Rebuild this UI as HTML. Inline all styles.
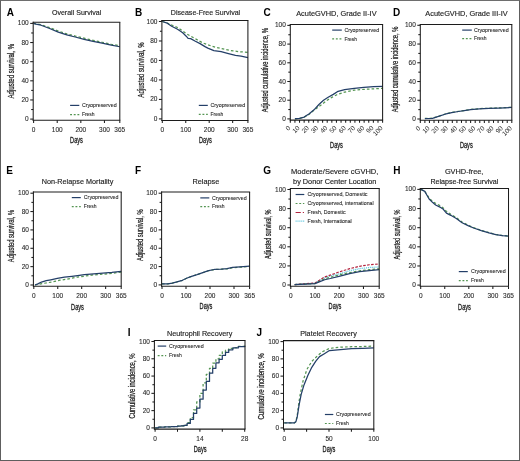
<!DOCTYPE html>
<html><head><meta charset="utf-8"><style>
html,body{margin:0;padding:0;background:#fff;}
body{width:520px;height:461px;overflow:hidden;position:relative;}
svg{position:absolute;left:0;top:0;font-family:"Liberation Sans",sans-serif;will-change:transform;}
.frame{position:absolute;left:0;top:0;width:518px;height:459px;border:1px solid #5e5e5e;border-top-color:#6e6e6e;}
</style></head><body>
<svg width="520" height="461" viewBox="0 0 520 461">
<text x="6.7" y="15.7" font-size="10" text-anchor="start" fill="#000" font-weight="bold" >A</text>
<text x="76.6" y="15.2" font-size="7.7" text-anchor="middle" fill="#222" textLength="49.4" lengthAdjust="spacingAndGlyphs" stroke="#222" stroke-width="0.15" >Overall Survival</text>
<polyline points="33.6,23.4 35.96,23.88 40.68,24.55 49.66,27.61 58.4,31.06 66.9,33.93 75.16,36.03 84.14,38.23 93.11,40.34 102.09,42.25 111.3,44.26 119.8,45.79" fill="none" stroke="#549552" stroke-width="1.25" stroke-dasharray="2.6 2.1" stroke-linejoin="round"/>
<polyline points="33.6,23.4 35.96,24.07 41.06,25.22 49.61,28.47 58.28,32.11 66.83,34.88 75.16,36.99 84.14,39.29 93.11,41.39 102.09,43.21 111.3,45.22 119.8,46.75" fill="none" stroke="#243f68" stroke-width="1.25" stroke-linejoin="round"/>
<line x1="32.7" y1="22.2" x2="120.3" y2="22.2" stroke="#1c1c1c" stroke-width="1.05" />
<line x1="119.8" y1="22.2" x2="119.8" y2="120.3" stroke="#1c1c1c" stroke-width="1.05" />
<line x1="33.2" y1="21.7" x2="33.2" y2="120.8" stroke="#1c1c1c" stroke-width="1.05" />
<line x1="32.7" y1="120.3" x2="120.3" y2="120.3" stroke="#1c1c1c" stroke-width="1.05" />
<line x1="30.2" y1="119.1" x2="33.2" y2="119.1" stroke="#1c1c1c" stroke-width="1.05" />
<text x="28.7" y="121.15" font-size="6.5" text-anchor="end" fill="#2a2a2a" stroke="#2a2a2a" stroke-width="0.1" >0</text>
<line x1="31.2" y1="109.53" x2="33.2" y2="109.53" stroke="#1c1c1c" stroke-width="1.05" />
<line x1="30.2" y1="99.96" x2="33.2" y2="99.96" stroke="#1c1c1c" stroke-width="1.05" />
<text x="28.7" y="102.01" font-size="6.5" text-anchor="end" fill="#2a2a2a" stroke="#2a2a2a" stroke-width="0.1" >20</text>
<line x1="31.2" y1="90.39" x2="33.2" y2="90.39" stroke="#1c1c1c" stroke-width="1.05" />
<line x1="30.2" y1="80.82" x2="33.2" y2="80.82" stroke="#1c1c1c" stroke-width="1.05" />
<text x="28.7" y="82.87" font-size="6.5" text-anchor="end" fill="#2a2a2a" stroke="#2a2a2a" stroke-width="0.1" >40</text>
<line x1="31.2" y1="71.25" x2="33.2" y2="71.25" stroke="#1c1c1c" stroke-width="1.05" />
<line x1="30.2" y1="61.68" x2="33.2" y2="61.68" stroke="#1c1c1c" stroke-width="1.05" />
<text x="28.7" y="63.73" font-size="6.5" text-anchor="end" fill="#2a2a2a" stroke="#2a2a2a" stroke-width="0.1" >60</text>
<line x1="31.2" y1="52.11" x2="33.2" y2="52.11" stroke="#1c1c1c" stroke-width="1.05" />
<line x1="30.2" y1="42.54" x2="33.2" y2="42.54" stroke="#1c1c1c" stroke-width="1.05" />
<text x="28.7" y="44.59" font-size="6.5" text-anchor="end" fill="#2a2a2a" stroke="#2a2a2a" stroke-width="0.1" >80</text>
<line x1="31.2" y1="32.97" x2="33.2" y2="32.97" stroke="#1c1c1c" stroke-width="1.05" />
<line x1="30.2" y1="23.4" x2="33.2" y2="23.4" stroke="#1c1c1c" stroke-width="1.05" />
<text x="28.7" y="25.45" font-size="6.5" text-anchor="end" fill="#2a2a2a" stroke="#2a2a2a" stroke-width="0.1" >100</text>
<line x1="33.6" y1="120.3" x2="33.6" y2="123" stroke="#1c1c1c" stroke-width="1.05" />
<line x1="57.22" y1="120.3" x2="57.22" y2="123" stroke="#1c1c1c" stroke-width="1.05" />
<line x1="80.83" y1="120.3" x2="80.83" y2="123" stroke="#1c1c1c" stroke-width="1.05" />
<line x1="104.45" y1="120.3" x2="104.45" y2="123" stroke="#1c1c1c" stroke-width="1.05" />
<line x1="119.8" y1="120.3" x2="119.8" y2="123" stroke="#1c1c1c" stroke-width="1.05" />
<text x="33.6" y="131.8" font-size="6.5" text-anchor="middle" fill="#2a2a2a" stroke="#2a2a2a" stroke-width="0.1" >0</text>
<text x="57.22" y="131.8" font-size="6.5" text-anchor="middle" fill="#2a2a2a" stroke="#2a2a2a" stroke-width="0.1" >100</text>
<text x="80.83" y="131.8" font-size="6.5" text-anchor="middle" fill="#2a2a2a" stroke="#2a2a2a" stroke-width="0.1" >200</text>
<text x="104.45" y="131.8" font-size="6.5" text-anchor="middle" fill="#2a2a2a" stroke="#2a2a2a" stroke-width="0.1" >300</text>
<text x="119.8" y="131.8" font-size="6.5" text-anchor="middle" fill="#2a2a2a" stroke="#2a2a2a" stroke-width="0.1" >365</text>
<text x="76.5" y="143.1" font-size="8.4" text-anchor="middle" fill="#222" textLength="12.8" lengthAdjust="spacingAndGlyphs" stroke="#222" stroke-width="0.3">Days</text>
<text x="0" y="0" font-size="8.4" text-anchor="middle" fill="#222" stroke="#222" stroke-width="0.25" textLength="54.5" lengthAdjust="spacingAndGlyphs" transform="translate(13.9 71.2) rotate(-90)">Adjusted survival, %</text>
<line x1="70.1" y1="105.4" x2="79.3" y2="105.4" stroke="#243f68" stroke-width="1.2"/>
<text x="81.9" y="107.1" font-size="5.3" text-anchor="start" fill="#2a2a2a" textLength="34.7" lengthAdjust="spacingAndGlyphs" stroke="#2a2a2a" stroke-width="0.1" >Cryopreserved</text>
<line x1="70.1" y1="114.6" x2="79.3" y2="114.6" stroke="#549552" stroke-width="1.2" stroke-dasharray="1.9 1.75"/>
<text x="81.9" y="116.3" font-size="5.3" text-anchor="start" fill="#2a2a2a" textLength="12.7" lengthAdjust="spacingAndGlyphs" stroke="#2a2a2a" stroke-width="0.1" >Fresh</text>
<text x="134.9" y="15.7" font-size="10" text-anchor="start" fill="#000" font-weight="bold" >B</text>
<text x="205.5" y="15.3" font-size="7.7" text-anchor="middle" fill="#222" textLength="69.3" lengthAdjust="spacingAndGlyphs" stroke="#222" stroke-width="0.15" >Disease-Free Survival</text>
<polyline points="162.3,21.5 166.99,22.96 173.32,25.79 177.54,27.54 182,30.56 186.22,33.58 190.68,36.21 194.9,38.45 199.12,40.98 203.58,43.22 212.25,46.34 221.16,48.58 230.08,50.43 239.22,51.69 247.9,52.38" fill="none" stroke="#549552" stroke-width="1.25" stroke-dasharray="2.6 2.1" stroke-linejoin="round"/>
<polyline points="162.3,21.5 167.22,23.16 171.68,26.18 177.54,29.29 182.7,32.7 186.22,36.21 188.1,38.45 190.68,38.64 194.9,40.98 200.06,43.61 204.98,46.63 207.8,48.09 213.89,50.62 221.16,51.69 228.43,53.54 235.47,55.3 241.1,56.17 247.9,57.73" fill="none" stroke="#243f68" stroke-width="1.25" stroke-linejoin="round"/>
<line x1="161.4" y1="20.5" x2="248.4" y2="20.5" stroke="#1c1c1c" stroke-width="1.05" />
<line x1="247.9" y1="20.5" x2="247.9" y2="120.4" stroke="#1c1c1c" stroke-width="1.05" />
<line x1="161.9" y1="20" x2="161.9" y2="120.9" stroke="#1c1c1c" stroke-width="1.05" />
<line x1="161.4" y1="120.4" x2="248.4" y2="120.4" stroke="#1c1c1c" stroke-width="1.05" />
<line x1="158.9" y1="118.9" x2="161.9" y2="118.9" stroke="#1c1c1c" stroke-width="1.05" />
<text x="157.4" y="120.95" font-size="6.5" text-anchor="end" fill="#2a2a2a" stroke="#2a2a2a" stroke-width="0.1" >0</text>
<line x1="159.9" y1="109.16" x2="161.9" y2="109.16" stroke="#1c1c1c" stroke-width="1.05" />
<line x1="158.9" y1="99.42" x2="161.9" y2="99.42" stroke="#1c1c1c" stroke-width="1.05" />
<text x="157.4" y="101.47" font-size="6.5" text-anchor="end" fill="#2a2a2a" stroke="#2a2a2a" stroke-width="0.1" >20</text>
<line x1="159.9" y1="89.68" x2="161.9" y2="89.68" stroke="#1c1c1c" stroke-width="1.05" />
<line x1="158.9" y1="79.94" x2="161.9" y2="79.94" stroke="#1c1c1c" stroke-width="1.05" />
<text x="157.4" y="81.99" font-size="6.5" text-anchor="end" fill="#2a2a2a" stroke="#2a2a2a" stroke-width="0.1" >40</text>
<line x1="159.9" y1="70.2" x2="161.9" y2="70.2" stroke="#1c1c1c" stroke-width="1.05" />
<line x1="158.9" y1="60.46" x2="161.9" y2="60.46" stroke="#1c1c1c" stroke-width="1.05" />
<text x="157.4" y="62.51" font-size="6.5" text-anchor="end" fill="#2a2a2a" stroke="#2a2a2a" stroke-width="0.1" >60</text>
<line x1="159.9" y1="50.72" x2="161.9" y2="50.72" stroke="#1c1c1c" stroke-width="1.05" />
<line x1="158.9" y1="40.98" x2="161.9" y2="40.98" stroke="#1c1c1c" stroke-width="1.05" />
<text x="157.4" y="43.03" font-size="6.5" text-anchor="end" fill="#2a2a2a" stroke="#2a2a2a" stroke-width="0.1" >80</text>
<line x1="159.9" y1="31.24" x2="161.9" y2="31.24" stroke="#1c1c1c" stroke-width="1.05" />
<line x1="158.9" y1="21.5" x2="161.9" y2="21.5" stroke="#1c1c1c" stroke-width="1.05" />
<text x="157.4" y="23.55" font-size="6.5" text-anchor="end" fill="#2a2a2a" stroke="#2a2a2a" stroke-width="0.1" >100</text>
<line x1="162.3" y1="120.4" x2="162.3" y2="123.1" stroke="#1c1c1c" stroke-width="1.05" />
<line x1="185.75" y1="120.4" x2="185.75" y2="123.1" stroke="#1c1c1c" stroke-width="1.05" />
<line x1="209.2" y1="120.4" x2="209.2" y2="123.1" stroke="#1c1c1c" stroke-width="1.05" />
<line x1="232.66" y1="120.4" x2="232.66" y2="123.1" stroke="#1c1c1c" stroke-width="1.05" />
<line x1="247.9" y1="120.4" x2="247.9" y2="123.1" stroke="#1c1c1c" stroke-width="1.05" />
<text x="162.3" y="131.9" font-size="6.5" text-anchor="middle" fill="#2a2a2a" stroke="#2a2a2a" stroke-width="0.1" >0</text>
<text x="185.75" y="131.9" font-size="6.5" text-anchor="middle" fill="#2a2a2a" stroke="#2a2a2a" stroke-width="0.1" >100</text>
<text x="209.2" y="131.9" font-size="6.5" text-anchor="middle" fill="#2a2a2a" stroke="#2a2a2a" stroke-width="0.1" >200</text>
<text x="232.66" y="131.9" font-size="6.5" text-anchor="middle" fill="#2a2a2a" stroke="#2a2a2a" stroke-width="0.1" >300</text>
<text x="247.9" y="131.9" font-size="6.5" text-anchor="middle" fill="#2a2a2a" stroke="#2a2a2a" stroke-width="0.1" >365</text>
<text x="205.4" y="143.1" font-size="8.4" text-anchor="middle" fill="#222" textLength="12.8" lengthAdjust="spacingAndGlyphs" stroke="#222" stroke-width="0.3">Days</text>
<text x="0" y="0" font-size="8.4" text-anchor="middle" fill="#222" stroke="#222" stroke-width="0.25" textLength="55.4" lengthAdjust="spacingAndGlyphs" transform="translate(143.9 70) rotate(-90)">Adjusted survival, %</text>
<line x1="198.8" y1="105.4" x2="207.8" y2="105.4" stroke="#243f68" stroke-width="1.2"/>
<text x="210.5" y="107.1" font-size="5.3" text-anchor="start" fill="#2a2a2a" textLength="34.7" lengthAdjust="spacingAndGlyphs" stroke="#2a2a2a" stroke-width="0.1" >Cryopreserved</text>
<line x1="198.8" y1="114.4" x2="207.8" y2="114.4" stroke="#549552" stroke-width="1.2" stroke-dasharray="1.9 1.75"/>
<text x="210.5" y="116.1" font-size="5.3" text-anchor="start" fill="#2a2a2a" textLength="12.7" lengthAdjust="spacingAndGlyphs" stroke="#2a2a2a" stroke-width="0.1" >Fresh</text>
<text x="263.4" y="15.7" font-size="10" text-anchor="start" fill="#000" font-weight="bold" >C</text>
<text x="336.4" y="15.6" font-size="7.7" text-anchor="middle" fill="#222" textLength="80.4" lengthAdjust="spacingAndGlyphs" stroke="#222" stroke-width="0.15" >AcuteGVHD, Grade II-IV</text>
<polyline points="294.92,118.9 299.53,118.43 304.15,117.22 309.22,114.23 314.3,110.02 317.99,107.4 321.68,104.5 327.22,100.2 331.84,97.4 336.91,94.68 344.66,92.07 354.26,90.2 363.86,89.35 373.55,88.89 382.6,88.33" fill="none" stroke="#549552" stroke-width="1.25" stroke-dasharray="2.6 2.1" stroke-linejoin="round"/>
<polyline points="294.92,118.71 299.53,118.34 304.15,117.03 309.22,113.66 314.02,109.83 318.91,104.5 323.53,100.2 328.14,97.3 333.31,94.4 338.11,91.32 344.66,89.63 354.26,88.33 363.86,87.3 373.55,86.74 382.6,86.27" fill="none" stroke="#243f68" stroke-width="1.25" stroke-linejoin="round"/>
<line x1="289.8" y1="24.4" x2="383.1" y2="24.4" stroke="#1c1c1c" stroke-width="1.05" />
<line x1="382.6" y1="24.4" x2="382.6" y2="120.1" stroke="#1c1c1c" stroke-width="1.05" />
<line x1="290.3" y1="23.9" x2="290.3" y2="120.6" stroke="#1c1c1c" stroke-width="1.05" />
<line x1="289.8" y1="120.1" x2="383.1" y2="120.1" stroke="#1c1c1c" stroke-width="1.05" />
<line x1="287.3" y1="118.9" x2="290.3" y2="118.9" stroke="#1c1c1c" stroke-width="1.05" />
<text x="285.8" y="120.95" font-size="6.5" text-anchor="end" fill="#2a2a2a" stroke="#2a2a2a" stroke-width="0.1" >0</text>
<line x1="288.3" y1="109.55" x2="290.3" y2="109.55" stroke="#1c1c1c" stroke-width="1.05" />
<line x1="287.3" y1="100.2" x2="290.3" y2="100.2" stroke="#1c1c1c" stroke-width="1.05" />
<text x="285.8" y="102.25" font-size="6.5" text-anchor="end" fill="#2a2a2a" stroke="#2a2a2a" stroke-width="0.1" >20</text>
<line x1="288.3" y1="90.85" x2="290.3" y2="90.85" stroke="#1c1c1c" stroke-width="1.05" />
<line x1="287.3" y1="81.5" x2="290.3" y2="81.5" stroke="#1c1c1c" stroke-width="1.05" />
<text x="285.8" y="83.55" font-size="6.5" text-anchor="end" fill="#2a2a2a" stroke="#2a2a2a" stroke-width="0.1" >40</text>
<line x1="288.3" y1="72.15" x2="290.3" y2="72.15" stroke="#1c1c1c" stroke-width="1.05" />
<line x1="287.3" y1="62.8" x2="290.3" y2="62.8" stroke="#1c1c1c" stroke-width="1.05" />
<text x="285.8" y="64.85" font-size="6.5" text-anchor="end" fill="#2a2a2a" stroke="#2a2a2a" stroke-width="0.1" >60</text>
<line x1="288.3" y1="53.45" x2="290.3" y2="53.45" stroke="#1c1c1c" stroke-width="1.05" />
<line x1="287.3" y1="44.1" x2="290.3" y2="44.1" stroke="#1c1c1c" stroke-width="1.05" />
<text x="285.8" y="46.15" font-size="6.5" text-anchor="end" fill="#2a2a2a" stroke="#2a2a2a" stroke-width="0.1" >80</text>
<line x1="288.3" y1="34.75" x2="290.3" y2="34.75" stroke="#1c1c1c" stroke-width="1.05" />
<line x1="287.3" y1="25.4" x2="290.3" y2="25.4" stroke="#1c1c1c" stroke-width="1.05" />
<text x="285.8" y="27.45" font-size="6.5" text-anchor="end" fill="#2a2a2a" stroke="#2a2a2a" stroke-width="0.1" >100</text>
<line x1="290.3" y1="120.1" x2="290.3" y2="122.8" stroke="#1c1c1c" stroke-width="1.05" />
<line x1="294.92" y1="120.1" x2="294.92" y2="122.8" stroke="#1c1c1c" stroke-width="1.05" />
<line x1="299.53" y1="120.1" x2="299.53" y2="122.8" stroke="#1c1c1c" stroke-width="1.05" />
<line x1="304.15" y1="120.1" x2="304.15" y2="122.8" stroke="#1c1c1c" stroke-width="1.05" />
<line x1="308.76" y1="120.1" x2="308.76" y2="122.8" stroke="#1c1c1c" stroke-width="1.05" />
<line x1="313.38" y1="120.1" x2="313.38" y2="122.8" stroke="#1c1c1c" stroke-width="1.05" />
<line x1="317.99" y1="120.1" x2="317.99" y2="122.8" stroke="#1c1c1c" stroke-width="1.05" />
<line x1="322.61" y1="120.1" x2="322.61" y2="122.8" stroke="#1c1c1c" stroke-width="1.05" />
<line x1="327.22" y1="120.1" x2="327.22" y2="122.8" stroke="#1c1c1c" stroke-width="1.05" />
<line x1="331.84" y1="120.1" x2="331.84" y2="122.8" stroke="#1c1c1c" stroke-width="1.05" />
<line x1="336.45" y1="120.1" x2="336.45" y2="122.8" stroke="#1c1c1c" stroke-width="1.05" />
<line x1="341.06" y1="120.1" x2="341.06" y2="122.8" stroke="#1c1c1c" stroke-width="1.05" />
<line x1="345.68" y1="120.1" x2="345.68" y2="122.8" stroke="#1c1c1c" stroke-width="1.05" />
<line x1="350.3" y1="120.1" x2="350.3" y2="122.8" stroke="#1c1c1c" stroke-width="1.05" />
<line x1="354.91" y1="120.1" x2="354.91" y2="122.8" stroke="#1c1c1c" stroke-width="1.05" />
<line x1="359.53" y1="120.1" x2="359.53" y2="122.8" stroke="#1c1c1c" stroke-width="1.05" />
<line x1="364.14" y1="120.1" x2="364.14" y2="122.8" stroke="#1c1c1c" stroke-width="1.05" />
<line x1="368.75" y1="120.1" x2="368.75" y2="122.8" stroke="#1c1c1c" stroke-width="1.05" />
<line x1="373.37" y1="120.1" x2="373.37" y2="122.8" stroke="#1c1c1c" stroke-width="1.05" />
<line x1="377.99" y1="120.1" x2="377.99" y2="122.8" stroke="#1c1c1c" stroke-width="1.05" />
<line x1="382.6" y1="120.1" x2="382.6" y2="122.8" stroke="#1c1c1c" stroke-width="1.05" />
<text x="290.9" y="128.5" font-size="6.5" text-anchor="end" fill="#2a2a2a" transform="rotate(-45 290.9 128.5)">0</text>
<text x="300.13" y="128.5" font-size="6.5" text-anchor="end" fill="#2a2a2a" transform="rotate(-45 300.13 128.5)">10</text>
<text x="309.36" y="128.5" font-size="6.5" text-anchor="end" fill="#2a2a2a" transform="rotate(-45 309.36 128.5)">20</text>
<text x="318.59" y="128.5" font-size="6.5" text-anchor="end" fill="#2a2a2a" transform="rotate(-45 318.59 128.5)">30</text>
<text x="327.82" y="128.5" font-size="6.5" text-anchor="end" fill="#2a2a2a" transform="rotate(-45 327.82 128.5)">40</text>
<text x="337.05" y="128.5" font-size="6.5" text-anchor="end" fill="#2a2a2a" transform="rotate(-45 337.05 128.5)">50</text>
<text x="346.28" y="128.5" font-size="6.5" text-anchor="end" fill="#2a2a2a" transform="rotate(-45 346.28 128.5)">60</text>
<text x="355.51" y="128.5" font-size="6.5" text-anchor="end" fill="#2a2a2a" transform="rotate(-45 355.51 128.5)">70</text>
<text x="364.74" y="128.5" font-size="6.5" text-anchor="end" fill="#2a2a2a" transform="rotate(-45 364.74 128.5)">80</text>
<text x="373.97" y="128.5" font-size="6.5" text-anchor="end" fill="#2a2a2a" transform="rotate(-45 373.97 128.5)">90</text>
<text x="383.2" y="128.5" font-size="6.5" text-anchor="end" fill="#2a2a2a" transform="rotate(-45 383.2 128.5)">100</text>
<text x="336.5" y="147.8" font-size="8.4" text-anchor="middle" fill="#222" textLength="12.8" lengthAdjust="spacingAndGlyphs" stroke="#222" stroke-width="0.3">Days</text>
<text x="0" y="0" font-size="8.4" text-anchor="middle" fill="#222" stroke="#222" stroke-width="0.25" textLength="84.3" lengthAdjust="spacingAndGlyphs" transform="translate(268.4 70.2) rotate(-90)">Adjusted cumulative incidence, %</text>
<line x1="332.2" y1="30.1" x2="341.8" y2="30.1" stroke="#243f68" stroke-width="1.2"/>
<text x="344.4" y="31.8" font-size="5.3" text-anchor="start" fill="#2a2a2a" textLength="34.7" lengthAdjust="spacingAndGlyphs" stroke="#2a2a2a" stroke-width="0.1" >Cryopreserved</text>
<line x1="332.2" y1="38.8" x2="341.8" y2="38.8" stroke="#549552" stroke-width="1.2" stroke-dasharray="1.9 1.75"/>
<text x="344.4" y="40.5" font-size="5.3" text-anchor="start" fill="#2a2a2a" textLength="12.7" lengthAdjust="spacingAndGlyphs" stroke="#2a2a2a" stroke-width="0.1" >Fresh</text>
<text x="393.1" y="15.7" font-size="10" text-anchor="start" fill="#000" font-weight="bold" >D</text>
<text x="466.45" y="15.6" font-size="7.7" text-anchor="middle" fill="#222" textLength="82.3" lengthAdjust="spacingAndGlyphs" stroke="#222" stroke-width="0.15" >AcuteGVHD, Grade III-IV</text>
<polyline points="424.88,118.48 432.47,118.2 439.24,116.05 445,114.08 451.68,112.49 458.46,111.36 464.22,110.52 470.62,109.49 479.41,108.65 488.93,108.18 498.72,107.9 511.8,107.33" fill="none" stroke="#549552" stroke-width="1.25" stroke-dasharray="2.6 2.1" stroke-linejoin="round"/>
<polyline points="424.88,118.63 432.47,118.34 439.24,116.19 445,114.22 451.68,112.63 458.46,111.5 464.22,110.66 470.62,109.63 479.41,108.79 488.93,108.32 498.72,108.04 511.8,107.47" fill="none" stroke="#243f68" stroke-width="1.25" stroke-linejoin="round"/>
<line x1="419.8" y1="24.4" x2="512.3" y2="24.4" stroke="#1c1c1c" stroke-width="1.05" />
<line x1="511.8" y1="24.4" x2="511.8" y2="120.2" stroke="#1c1c1c" stroke-width="1.05" />
<line x1="420.3" y1="23.9" x2="420.3" y2="120.7" stroke="#1c1c1c" stroke-width="1.05" />
<line x1="419.8" y1="120.2" x2="512.3" y2="120.2" stroke="#1c1c1c" stroke-width="1.05" />
<line x1="417.3" y1="119" x2="420.3" y2="119" stroke="#1c1c1c" stroke-width="1.05" />
<text x="415.8" y="121.05" font-size="6.5" text-anchor="end" fill="#2a2a2a" stroke="#2a2a2a" stroke-width="0.1" >0</text>
<line x1="418.3" y1="109.63" x2="420.3" y2="109.63" stroke="#1c1c1c" stroke-width="1.05" />
<line x1="417.3" y1="100.26" x2="420.3" y2="100.26" stroke="#1c1c1c" stroke-width="1.05" />
<text x="415.8" y="102.31" font-size="6.5" text-anchor="end" fill="#2a2a2a" stroke="#2a2a2a" stroke-width="0.1" >20</text>
<line x1="418.3" y1="90.89" x2="420.3" y2="90.89" stroke="#1c1c1c" stroke-width="1.05" />
<line x1="417.3" y1="81.52" x2="420.3" y2="81.52" stroke="#1c1c1c" stroke-width="1.05" />
<text x="415.8" y="83.57" font-size="6.5" text-anchor="end" fill="#2a2a2a" stroke="#2a2a2a" stroke-width="0.1" >40</text>
<line x1="418.3" y1="72.15" x2="420.3" y2="72.15" stroke="#1c1c1c" stroke-width="1.05" />
<line x1="417.3" y1="62.78" x2="420.3" y2="62.78" stroke="#1c1c1c" stroke-width="1.05" />
<text x="415.8" y="64.83" font-size="6.5" text-anchor="end" fill="#2a2a2a" stroke="#2a2a2a" stroke-width="0.1" >60</text>
<line x1="418.3" y1="53.41" x2="420.3" y2="53.41" stroke="#1c1c1c" stroke-width="1.05" />
<line x1="417.3" y1="44.04" x2="420.3" y2="44.04" stroke="#1c1c1c" stroke-width="1.05" />
<text x="415.8" y="46.09" font-size="6.5" text-anchor="end" fill="#2a2a2a" stroke="#2a2a2a" stroke-width="0.1" >80</text>
<line x1="418.3" y1="34.67" x2="420.3" y2="34.67" stroke="#1c1c1c" stroke-width="1.05" />
<line x1="417.3" y1="25.3" x2="420.3" y2="25.3" stroke="#1c1c1c" stroke-width="1.05" />
<text x="415.8" y="27.35" font-size="6.5" text-anchor="end" fill="#2a2a2a" stroke="#2a2a2a" stroke-width="0.1" >100</text>
<line x1="420.3" y1="120.2" x2="420.3" y2="122.9" stroke="#1c1c1c" stroke-width="1.05" />
<line x1="424.88" y1="120.2" x2="424.88" y2="122.9" stroke="#1c1c1c" stroke-width="1.05" />
<line x1="429.45" y1="120.2" x2="429.45" y2="122.9" stroke="#1c1c1c" stroke-width="1.05" />
<line x1="434.03" y1="120.2" x2="434.03" y2="122.9" stroke="#1c1c1c" stroke-width="1.05" />
<line x1="438.6" y1="120.2" x2="438.6" y2="122.9" stroke="#1c1c1c" stroke-width="1.05" />
<line x1="443.18" y1="120.2" x2="443.18" y2="122.9" stroke="#1c1c1c" stroke-width="1.05" />
<line x1="447.75" y1="120.2" x2="447.75" y2="122.9" stroke="#1c1c1c" stroke-width="1.05" />
<line x1="452.32" y1="120.2" x2="452.32" y2="122.9" stroke="#1c1c1c" stroke-width="1.05" />
<line x1="456.9" y1="120.2" x2="456.9" y2="122.9" stroke="#1c1c1c" stroke-width="1.05" />
<line x1="461.48" y1="120.2" x2="461.48" y2="122.9" stroke="#1c1c1c" stroke-width="1.05" />
<line x1="466.05" y1="120.2" x2="466.05" y2="122.9" stroke="#1c1c1c" stroke-width="1.05" />
<line x1="470.62" y1="120.2" x2="470.62" y2="122.9" stroke="#1c1c1c" stroke-width="1.05" />
<line x1="475.2" y1="120.2" x2="475.2" y2="122.9" stroke="#1c1c1c" stroke-width="1.05" />
<line x1="479.78" y1="120.2" x2="479.78" y2="122.9" stroke="#1c1c1c" stroke-width="1.05" />
<line x1="484.35" y1="120.2" x2="484.35" y2="122.9" stroke="#1c1c1c" stroke-width="1.05" />
<line x1="488.93" y1="120.2" x2="488.93" y2="122.9" stroke="#1c1c1c" stroke-width="1.05" />
<line x1="493.5" y1="120.2" x2="493.5" y2="122.9" stroke="#1c1c1c" stroke-width="1.05" />
<line x1="498.08" y1="120.2" x2="498.08" y2="122.9" stroke="#1c1c1c" stroke-width="1.05" />
<line x1="502.65" y1="120.2" x2="502.65" y2="122.9" stroke="#1c1c1c" stroke-width="1.05" />
<line x1="507.23" y1="120.2" x2="507.23" y2="122.9" stroke="#1c1c1c" stroke-width="1.05" />
<line x1="511.8" y1="120.2" x2="511.8" y2="122.9" stroke="#1c1c1c" stroke-width="1.05" />
<text x="420.9" y="128.6" font-size="6.5" text-anchor="end" fill="#2a2a2a" transform="rotate(-45 420.9 128.6)">0</text>
<text x="430.05" y="128.6" font-size="6.5" text-anchor="end" fill="#2a2a2a" transform="rotate(-45 430.05 128.6)">10</text>
<text x="439.2" y="128.6" font-size="6.5" text-anchor="end" fill="#2a2a2a" transform="rotate(-45 439.2 128.6)">20</text>
<text x="448.35" y="128.6" font-size="6.5" text-anchor="end" fill="#2a2a2a" transform="rotate(-45 448.35 128.6)">30</text>
<text x="457.5" y="128.6" font-size="6.5" text-anchor="end" fill="#2a2a2a" transform="rotate(-45 457.5 128.6)">40</text>
<text x="466.65" y="128.6" font-size="6.5" text-anchor="end" fill="#2a2a2a" transform="rotate(-45 466.65 128.6)">50</text>
<text x="475.8" y="128.6" font-size="6.5" text-anchor="end" fill="#2a2a2a" transform="rotate(-45 475.8 128.6)">60</text>
<text x="484.95" y="128.6" font-size="6.5" text-anchor="end" fill="#2a2a2a" transform="rotate(-45 484.95 128.6)">70</text>
<text x="494.1" y="128.6" font-size="6.5" text-anchor="end" fill="#2a2a2a" transform="rotate(-45 494.1 128.6)">80</text>
<text x="503.25" y="128.6" font-size="6.5" text-anchor="end" fill="#2a2a2a" transform="rotate(-45 503.25 128.6)">90</text>
<text x="512.4" y="128.6" font-size="6.5" text-anchor="end" fill="#2a2a2a" transform="rotate(-45 512.4 128.6)">100</text>
<text x="466.3" y="147.8" font-size="8.4" text-anchor="middle" fill="#222" textLength="12.8" lengthAdjust="spacingAndGlyphs" stroke="#222" stroke-width="0.3">Days</text>
<text x="0" y="0" font-size="8.4" text-anchor="middle" fill="#222" stroke="#222" stroke-width="0.25" textLength="85.5" lengthAdjust="spacingAndGlyphs" transform="translate(398.4 69.5) rotate(-90)">Adjusted cumulative incidence, %</text>
<line x1="462.2" y1="30.1" x2="471.8" y2="30.1" stroke="#243f68" stroke-width="1.2"/>
<text x="473.9" y="31.8" font-size="5.3" text-anchor="start" fill="#2a2a2a" textLength="34.7" lengthAdjust="spacingAndGlyphs" stroke="#2a2a2a" stroke-width="0.1" >Cryopreserved</text>
<line x1="462.2" y1="38.6" x2="471.8" y2="38.6" stroke="#549552" stroke-width="1.2" stroke-dasharray="1.9 1.75"/>
<text x="473.9" y="40.3" font-size="5.3" text-anchor="start" fill="#2a2a2a" textLength="12.7" lengthAdjust="spacingAndGlyphs" stroke="#2a2a2a" stroke-width="0.1" >Fresh</text>
<text x="6.2" y="173.5" font-size="10" text-anchor="start" fill="#000" font-weight="bold" >E</text>
<text x="77.5" y="183.6" font-size="7.7" text-anchor="middle" fill="#222" textLength="71.6" lengthAdjust="spacingAndGlyphs" stroke="#222" stroke-width="0.15" >Non-Relapse Mortality</text>
<polyline points="35,285 38.59,284.27 42.18,283.53 46.25,282.98 52.72,281.79 59.9,280.23 67.32,279.03 77.38,277.01 79.77,276.83 93.66,274.9 107.31,273.8 121.2,272.15" fill="none" stroke="#549552" stroke-width="1.25" stroke-dasharray="2.6 2.1" stroke-linejoin="round"/>
<polyline points="35,285 37.87,283.9 41.46,282.06 46.25,280.69 50.8,279.77 57.27,278.39 64.45,277.2 71.87,276.28 79.3,275.27 84.32,274.72 93.66,273.8 102.76,273.07 111.86,272.33 121.2,271.32" fill="none" stroke="#243f68" stroke-width="1.25" stroke-linejoin="round"/>
<line x1="32.9" y1="192" x2="121.7" y2="192" stroke="#1c1c1c" stroke-width="1.05" />
<line x1="121.2" y1="192" x2="121.2" y2="286.3" stroke="#1c1c1c" stroke-width="1.05" />
<line x1="33.4" y1="191.5" x2="33.4" y2="286.8" stroke="#1c1c1c" stroke-width="1.05" />
<line x1="32.9" y1="286.3" x2="121.7" y2="286.3" stroke="#1c1c1c" stroke-width="1.05" />
<line x1="30.4" y1="285" x2="33.4" y2="285" stroke="#1c1c1c" stroke-width="1.05" />
<text x="28.9" y="287.05" font-size="6.5" text-anchor="end" fill="#2a2a2a" stroke="#2a2a2a" stroke-width="0.1" >0</text>
<line x1="31.4" y1="275.82" x2="33.4" y2="275.82" stroke="#1c1c1c" stroke-width="1.05" />
<line x1="30.4" y1="266.64" x2="33.4" y2="266.64" stroke="#1c1c1c" stroke-width="1.05" />
<text x="28.9" y="268.69" font-size="6.5" text-anchor="end" fill="#2a2a2a" stroke="#2a2a2a" stroke-width="0.1" >20</text>
<line x1="31.4" y1="257.46" x2="33.4" y2="257.46" stroke="#1c1c1c" stroke-width="1.05" />
<line x1="30.4" y1="248.28" x2="33.4" y2="248.28" stroke="#1c1c1c" stroke-width="1.05" />
<text x="28.9" y="250.33" font-size="6.5" text-anchor="end" fill="#2a2a2a" stroke="#2a2a2a" stroke-width="0.1" >40</text>
<line x1="31.4" y1="239.1" x2="33.4" y2="239.1" stroke="#1c1c1c" stroke-width="1.05" />
<line x1="30.4" y1="229.92" x2="33.4" y2="229.92" stroke="#1c1c1c" stroke-width="1.05" />
<text x="28.9" y="231.97" font-size="6.5" text-anchor="end" fill="#2a2a2a" stroke="#2a2a2a" stroke-width="0.1" >60</text>
<line x1="31.4" y1="220.74" x2="33.4" y2="220.74" stroke="#1c1c1c" stroke-width="1.05" />
<line x1="30.4" y1="211.56" x2="33.4" y2="211.56" stroke="#1c1c1c" stroke-width="1.05" />
<text x="28.9" y="213.61" font-size="6.5" text-anchor="end" fill="#2a2a2a" stroke="#2a2a2a" stroke-width="0.1" >80</text>
<line x1="31.4" y1="202.38" x2="33.4" y2="202.38" stroke="#1c1c1c" stroke-width="1.05" />
<line x1="30.4" y1="193.2" x2="33.4" y2="193.2" stroke="#1c1c1c" stroke-width="1.05" />
<text x="28.9" y="195.25" font-size="6.5" text-anchor="end" fill="#2a2a2a" stroke="#2a2a2a" stroke-width="0.1" >100</text>
<line x1="33.8" y1="286.3" x2="33.8" y2="289" stroke="#1c1c1c" stroke-width="1.05" />
<line x1="57.75" y1="286.3" x2="57.75" y2="289" stroke="#1c1c1c" stroke-width="1.05" />
<line x1="81.69" y1="286.3" x2="81.69" y2="289" stroke="#1c1c1c" stroke-width="1.05" />
<line x1="105.64" y1="286.3" x2="105.64" y2="289" stroke="#1c1c1c" stroke-width="1.05" />
<line x1="121.2" y1="286.3" x2="121.2" y2="289" stroke="#1c1c1c" stroke-width="1.05" />
<text x="33.8" y="297.8" font-size="6.5" text-anchor="middle" fill="#2a2a2a" stroke="#2a2a2a" stroke-width="0.1" >0</text>
<text x="57.75" y="297.8" font-size="6.5" text-anchor="middle" fill="#2a2a2a" stroke="#2a2a2a" stroke-width="0.1" >100</text>
<text x="81.69" y="297.8" font-size="6.5" text-anchor="middle" fill="#2a2a2a" stroke="#2a2a2a" stroke-width="0.1" >200</text>
<text x="105.64" y="297.8" font-size="6.5" text-anchor="middle" fill="#2a2a2a" stroke="#2a2a2a" stroke-width="0.1" >300</text>
<text x="121.2" y="297.8" font-size="6.5" text-anchor="middle" fill="#2a2a2a" stroke="#2a2a2a" stroke-width="0.1" >365</text>
<text x="77.5" y="309.5" font-size="8.4" text-anchor="middle" fill="#222" textLength="12.8" lengthAdjust="spacingAndGlyphs" stroke="#222" stroke-width="0.3">Days</text>
<text x="0" y="0" font-size="8.4" text-anchor="middle" fill="#222" stroke="#222" stroke-width="0.25" textLength="52.3" lengthAdjust="spacingAndGlyphs" transform="translate(14.2 236) rotate(-90)">Adjusted survival, %</text>
<line x1="71.8" y1="197.6" x2="80.8" y2="197.6" stroke="#243f68" stroke-width="1.2"/>
<text x="83.8" y="199.3" font-size="5.3" text-anchor="start" fill="#2a2a2a" textLength="34.7" lengthAdjust="spacingAndGlyphs" stroke="#2a2a2a" stroke-width="0.1" >Cryopreserved</text>
<line x1="71.8" y1="206.6" x2="80.8" y2="206.6" stroke="#549552" stroke-width="1.2" stroke-dasharray="1.9 1.75"/>
<text x="83.8" y="208.3" font-size="5.3" text-anchor="start" fill="#2a2a2a" textLength="12.7" lengthAdjust="spacingAndGlyphs" stroke="#2a2a2a" stroke-width="0.1" >Fresh</text>
<text x="135.1" y="173.5" font-size="10" text-anchor="start" fill="#000" font-weight="bold" >F</text>
<text x="205.9" y="183.6" font-size="7.7" text-anchor="middle" fill="#222" textLength="27" lengthAdjust="spacingAndGlyphs" stroke="#222" stroke-width="0.15" >Relapse</text>
<polyline points="162,283.98 167.76,283.98 172.32,283.07 176.88,281.97 182.4,280.31 187.2,278.02 190.8,276.56 197.04,274.63 202.8,272.7 208.56,270.69 214.32,269.49 221.52,269.13 227.04,268.94 232.56,267.75 240,267.2 249.6,266.38" fill="none" stroke="#549552" stroke-width="1.25" stroke-dasharray="2.6 2.1" stroke-linejoin="round"/>
<polyline points="162,283.98 167.76,283.98 172.32,283.07 176.88,281.97 182.4,280.31 187.2,278.02 190.8,276.56 197.04,274.63 202.8,272.7 208.56,270.69 214.32,269.49 221.52,269.13 227.04,268.58 232.56,267.39 240,266.84 249.6,266.01" fill="none" stroke="#243f68" stroke-width="1.25" stroke-linejoin="round"/>
<line x1="161.1" y1="191.9" x2="250.1" y2="191.9" stroke="#1c1c1c" stroke-width="1.05" />
<line x1="249.6" y1="191.9" x2="249.6" y2="286.3" stroke="#1c1c1c" stroke-width="1.05" />
<line x1="161.6" y1="191.4" x2="161.6" y2="286.8" stroke="#1c1c1c" stroke-width="1.05" />
<line x1="161.1" y1="286.3" x2="250.1" y2="286.3" stroke="#1c1c1c" stroke-width="1.05" />
<line x1="158.6" y1="284.9" x2="161.6" y2="284.9" stroke="#1c1c1c" stroke-width="1.05" />
<text x="157.1" y="286.95" font-size="6.5" text-anchor="end" fill="#2a2a2a" stroke="#2a2a2a" stroke-width="0.1" >0</text>
<line x1="159.6" y1="275.73" x2="161.6" y2="275.73" stroke="#1c1c1c" stroke-width="1.05" />
<line x1="158.6" y1="266.56" x2="161.6" y2="266.56" stroke="#1c1c1c" stroke-width="1.05" />
<text x="157.1" y="268.61" font-size="6.5" text-anchor="end" fill="#2a2a2a" stroke="#2a2a2a" stroke-width="0.1" >20</text>
<line x1="159.6" y1="257.39" x2="161.6" y2="257.39" stroke="#1c1c1c" stroke-width="1.05" />
<line x1="158.6" y1="248.22" x2="161.6" y2="248.22" stroke="#1c1c1c" stroke-width="1.05" />
<text x="157.1" y="250.27" font-size="6.5" text-anchor="end" fill="#2a2a2a" stroke="#2a2a2a" stroke-width="0.1" >40</text>
<line x1="159.6" y1="239.05" x2="161.6" y2="239.05" stroke="#1c1c1c" stroke-width="1.05" />
<line x1="158.6" y1="229.88" x2="161.6" y2="229.88" stroke="#1c1c1c" stroke-width="1.05" />
<text x="157.1" y="231.93" font-size="6.5" text-anchor="end" fill="#2a2a2a" stroke="#2a2a2a" stroke-width="0.1" >60</text>
<line x1="159.6" y1="220.71" x2="161.6" y2="220.71" stroke="#1c1c1c" stroke-width="1.05" />
<line x1="158.6" y1="211.54" x2="161.6" y2="211.54" stroke="#1c1c1c" stroke-width="1.05" />
<text x="157.1" y="213.59" font-size="6.5" text-anchor="end" fill="#2a2a2a" stroke="#2a2a2a" stroke-width="0.1" >80</text>
<line x1="159.6" y1="202.37" x2="161.6" y2="202.37" stroke="#1c1c1c" stroke-width="1.05" />
<line x1="158.6" y1="193.2" x2="161.6" y2="193.2" stroke="#1c1c1c" stroke-width="1.05" />
<text x="157.1" y="195.25" font-size="6.5" text-anchor="end" fill="#2a2a2a" stroke="#2a2a2a" stroke-width="0.1" >100</text>
<line x1="162" y1="286.3" x2="162" y2="289" stroke="#1c1c1c" stroke-width="1.05" />
<line x1="186" y1="286.3" x2="186" y2="289" stroke="#1c1c1c" stroke-width="1.05" />
<line x1="210" y1="286.3" x2="210" y2="289" stroke="#1c1c1c" stroke-width="1.05" />
<line x1="234" y1="286.3" x2="234" y2="289" stroke="#1c1c1c" stroke-width="1.05" />
<line x1="249.6" y1="286.3" x2="249.6" y2="289" stroke="#1c1c1c" stroke-width="1.05" />
<text x="162" y="297.8" font-size="6.5" text-anchor="middle" fill="#2a2a2a" stroke="#2a2a2a" stroke-width="0.1" >0</text>
<text x="186" y="297.8" font-size="6.5" text-anchor="middle" fill="#2a2a2a" stroke="#2a2a2a" stroke-width="0.1" >100</text>
<text x="210" y="297.8" font-size="6.5" text-anchor="middle" fill="#2a2a2a" stroke="#2a2a2a" stroke-width="0.1" >200</text>
<text x="234" y="297.8" font-size="6.5" text-anchor="middle" fill="#2a2a2a" stroke="#2a2a2a" stroke-width="0.1" >300</text>
<text x="249.6" y="297.8" font-size="6.5" text-anchor="middle" fill="#2a2a2a" stroke="#2a2a2a" stroke-width="0.1" >365</text>
<text x="206" y="309.3" font-size="8.4" text-anchor="middle" fill="#222" textLength="12.8" lengthAdjust="spacingAndGlyphs" stroke="#222" stroke-width="0.3">Days</text>
<text x="0" y="0" font-size="8.4" text-anchor="middle" fill="#222" stroke="#222" stroke-width="0.25" textLength="51.6" lengthAdjust="spacingAndGlyphs" transform="translate(142.9 235.3) rotate(-90)">Adjusted survival, %</text>
<line x1="200.3" y1="197.9" x2="209.3" y2="197.9" stroke="#243f68" stroke-width="1.2"/>
<text x="211.9" y="199.6" font-size="5.3" text-anchor="start" fill="#2a2a2a" textLength="34.7" lengthAdjust="spacingAndGlyphs" stroke="#2a2a2a" stroke-width="0.1" >Cryopreserved</text>
<line x1="200.3" y1="206.6" x2="209.3" y2="206.6" stroke="#549552" stroke-width="1.2" stroke-dasharray="1.9 1.75"/>
<text x="211.9" y="208.3" font-size="5.3" text-anchor="start" fill="#2a2a2a" textLength="12.7" lengthAdjust="spacingAndGlyphs" stroke="#2a2a2a" stroke-width="0.1" >Fresh</text>
<text x="263.3" y="173.5" font-size="10" text-anchor="start" fill="#000" font-weight="bold" >G</text>
<text x="334.7" y="174.3" font-size="7.7" text-anchor="middle" fill="#222" textLength="87.3" lengthAdjust="spacingAndGlyphs" stroke="#222" stroke-width="0.15" >Moderate/Severe cGVHD,</text>
<text x="334.7" y="183.5" font-size="7.7" text-anchor="middle" fill="#222" textLength="83.2" lengthAdjust="spacingAndGlyphs" stroke="#222" stroke-width="0.15" >by Donor Center Location</text>
<polyline points="294.68,284.52 315.02,283.28 318.65,281.18 324.71,277.84 330.28,275.93 339.96,273.64 349.65,270.77 359.58,268.67 369.27,267.52 379.2,266.95" fill="none" stroke="#55c3dd" stroke-width="1.25" stroke-dasharray="1 0.9" stroke-linejoin="round"/>
<polyline points="294.68,284.52 315.02,283.09 318.65,280.7 324.71,276.88 330.28,275.07 339.96,271.73 349.65,268.67 359.58,266.28 369.27,264.75 379.2,263.89" fill="none" stroke="#b3243f" stroke-width="1.25" stroke-dasharray="2.6 1.4" stroke-linejoin="round"/>
<polyline points="294.68,284.52 315.02,283.57 318.65,281.66 324.71,278.79 330.28,277.36 339.96,274.69 349.65,272.68 359.58,270.77 369.27,269.72 379.2,268.76" fill="none" stroke="#549552" stroke-width="1.25" stroke-dasharray="2.6 2.1" stroke-linejoin="round"/>
<polyline points="294.68,284.52 315.02,283.57 318.65,282.13 324.71,279.75 330.28,278.51 339.96,276.12 349.65,273.64 359.58,271.73 369.27,270.68 379.2,269.53" fill="none" stroke="#243f68" stroke-width="1.25" stroke-linejoin="round"/>
<line x1="289.9" y1="188.5" x2="379.7" y2="188.5" stroke="#1c1c1c" stroke-width="1.05" />
<line x1="379.2" y1="188.5" x2="379.2" y2="286.2" stroke="#1c1c1c" stroke-width="1.05" />
<line x1="290.4" y1="188" x2="290.4" y2="286.7" stroke="#1c1c1c" stroke-width="1.05" />
<line x1="289.9" y1="286.2" x2="379.7" y2="286.2" stroke="#1c1c1c" stroke-width="1.05" />
<line x1="287.4" y1="285" x2="290.4" y2="285" stroke="#1c1c1c" stroke-width="1.05" />
<text x="285.9" y="287.05" font-size="6.5" text-anchor="end" fill="#2a2a2a" stroke="#2a2a2a" stroke-width="0.1" >0</text>
<line x1="288.4" y1="275.45" x2="290.4" y2="275.45" stroke="#1c1c1c" stroke-width="1.05" />
<line x1="287.4" y1="265.9" x2="290.4" y2="265.9" stroke="#1c1c1c" stroke-width="1.05" />
<text x="285.9" y="267.95" font-size="6.5" text-anchor="end" fill="#2a2a2a" stroke="#2a2a2a" stroke-width="0.1" >20</text>
<line x1="288.4" y1="256.35" x2="290.4" y2="256.35" stroke="#1c1c1c" stroke-width="1.05" />
<line x1="287.4" y1="246.8" x2="290.4" y2="246.8" stroke="#1c1c1c" stroke-width="1.05" />
<text x="285.9" y="248.85" font-size="6.5" text-anchor="end" fill="#2a2a2a" stroke="#2a2a2a" stroke-width="0.1" >40</text>
<line x1="288.4" y1="237.25" x2="290.4" y2="237.25" stroke="#1c1c1c" stroke-width="1.05" />
<line x1="287.4" y1="227.7" x2="290.4" y2="227.7" stroke="#1c1c1c" stroke-width="1.05" />
<text x="285.9" y="229.75" font-size="6.5" text-anchor="end" fill="#2a2a2a" stroke="#2a2a2a" stroke-width="0.1" >60</text>
<line x1="288.4" y1="218.15" x2="290.4" y2="218.15" stroke="#1c1c1c" stroke-width="1.05" />
<line x1="287.4" y1="208.6" x2="290.4" y2="208.6" stroke="#1c1c1c" stroke-width="1.05" />
<text x="285.9" y="210.65" font-size="6.5" text-anchor="end" fill="#2a2a2a" stroke="#2a2a2a" stroke-width="0.1" >80</text>
<line x1="288.4" y1="199.05" x2="290.4" y2="199.05" stroke="#1c1c1c" stroke-width="1.05" />
<line x1="287.4" y1="189.5" x2="290.4" y2="189.5" stroke="#1c1c1c" stroke-width="1.05" />
<text x="285.9" y="191.55" font-size="6.5" text-anchor="end" fill="#2a2a2a" stroke="#2a2a2a" stroke-width="0.1" >100</text>
<line x1="290.8" y1="286.2" x2="290.8" y2="288.9" stroke="#1c1c1c" stroke-width="1.05" />
<line x1="315.02" y1="286.2" x2="315.02" y2="288.9" stroke="#1c1c1c" stroke-width="1.05" />
<line x1="339.24" y1="286.2" x2="339.24" y2="288.9" stroke="#1c1c1c" stroke-width="1.05" />
<line x1="363.46" y1="286.2" x2="363.46" y2="288.9" stroke="#1c1c1c" stroke-width="1.05" />
<line x1="379.2" y1="286.2" x2="379.2" y2="288.9" stroke="#1c1c1c" stroke-width="1.05" />
<text x="290.8" y="297.7" font-size="6.5" text-anchor="middle" fill="#2a2a2a" stroke="#2a2a2a" stroke-width="0.1" >0</text>
<text x="315.02" y="297.7" font-size="6.5" text-anchor="middle" fill="#2a2a2a" stroke="#2a2a2a" stroke-width="0.1" >100</text>
<text x="339.24" y="297.7" font-size="6.5" text-anchor="middle" fill="#2a2a2a" stroke="#2a2a2a" stroke-width="0.1" >200</text>
<text x="363.46" y="297.7" font-size="6.5" text-anchor="middle" fill="#2a2a2a" stroke="#2a2a2a" stroke-width="0.1" >300</text>
<text x="379.2" y="297.7" font-size="6.5" text-anchor="middle" fill="#2a2a2a" stroke="#2a2a2a" stroke-width="0.1" >365</text>
<text x="335" y="309.3" font-size="8.4" text-anchor="middle" fill="#222" textLength="12.8" lengthAdjust="spacingAndGlyphs" stroke="#222" stroke-width="0.3">Days</text>
<text x="0" y="0" font-size="8.4" text-anchor="middle" fill="#222" stroke="#222" stroke-width="0.25" textLength="49.5" lengthAdjust="spacingAndGlyphs" transform="translate(270.8 234.3) rotate(-90)">Adjusted survival, %</text>
<line x1="295.6" y1="194.5" x2="304.3" y2="194.5" stroke="#243f68" stroke-width="1.2"/>
<text x="307.5" y="196.2" font-size="5.3" text-anchor="start" fill="#2a2a2a" textLength="60" lengthAdjust="spacingAndGlyphs" stroke="#2a2a2a" stroke-width="0.1" >Cryopreserved, Domestic</text>
<line x1="295.6" y1="203.5" x2="304.3" y2="203.5" stroke="#549552" stroke-width="1.2" stroke-dasharray="1.9 1.75"/>
<text x="307.5" y="205.2" font-size="5.3" text-anchor="start" fill="#2a2a2a" textLength="66.2" lengthAdjust="spacingAndGlyphs" stroke="#2a2a2a" stroke-width="0.1" >Cryopreserved, international</text>
<line x1="295.6" y1="212.5" x2="304.3" y2="212.5" stroke="#b3243f" stroke-width="1.2" stroke-dasharray="5.2 2 1.2 2"/>
<text x="307.5" y="214.2" font-size="5.3" text-anchor="start" fill="#2a2a2a" textLength="38.1" lengthAdjust="spacingAndGlyphs" stroke="#2a2a2a" stroke-width="0.1" >Fresh, Domestic</text>
<line x1="295.6" y1="221.2" x2="304.3" y2="221.2" stroke="#55c3dd" stroke-width="1.2" stroke-dasharray="1 0.9"/>
<text x="307.5" y="222.9" font-size="5.3" text-anchor="start" fill="#2a2a2a" textLength="44.2" lengthAdjust="spacingAndGlyphs" stroke="#2a2a2a" stroke-width="0.1" >Fresh, International</text>
<text x="393.3" y="173.5" font-size="10" text-anchor="start" fill="#000" font-weight="bold" >H</text>
<text x="464.15" y="174.3" font-size="7.7" text-anchor="middle" fill="#222" textLength="38.5" lengthAdjust="spacingAndGlyphs" stroke="#222" stroke-width="0.15" >GVHD-free,</text>
<text x="464.4" y="183.5" font-size="7.7" text-anchor="middle" fill="#222" textLength="68" lengthAdjust="spacingAndGlyphs" stroke="#222" stroke-width="0.15" >Relapse-free Survival</text>
<polyline points="420.7,189.4 421.9,189.88 424.79,191.31 426.95,194.66 429.12,198.01 432.49,201.36 435.61,203.28 439.94,205.67 443.31,208.06 446.44,211.41 450.77,214.28 456.3,217.63 462.07,221.94 468.09,225.29 473.62,227.68 481.32,230.36 489.02,232.66 495.75,234.38 502.49,235.53 508.5,236.01" fill="none" stroke="#549552" stroke-width="1.25" stroke-dasharray="2.6 2.1" stroke-linejoin="round"/>
<polyline points="420.7,189.4 421.9,189.88 424.79,191.41 426.95,195.24 429.12,198.97 432.49,202.32 435.61,205 439.94,207.1 443.31,209.31 446.44,213.13 450.77,215.33 456.3,218.49 462.07,222.7 468.09,225.57 473.62,227.97 481.32,230.55 489.02,232.85 495.75,234.67 502.49,235.72 508.5,236.2" fill="none" stroke="#243f68" stroke-width="1.25" stroke-linejoin="round"/>
<line x1="419.8" y1="188.5" x2="509" y2="188.5" stroke="#1c1c1c" stroke-width="1.05" />
<line x1="508.5" y1="188.5" x2="508.5" y2="286.3" stroke="#1c1c1c" stroke-width="1.05" />
<line x1="420.3" y1="188" x2="420.3" y2="286.8" stroke="#1c1c1c" stroke-width="1.05" />
<line x1="419.8" y1="286.3" x2="509" y2="286.3" stroke="#1c1c1c" stroke-width="1.05" />
<line x1="417.3" y1="285.1" x2="420.3" y2="285.1" stroke="#1c1c1c" stroke-width="1.05" />
<text x="415.8" y="287.15" font-size="6.5" text-anchor="end" fill="#2a2a2a" stroke="#2a2a2a" stroke-width="0.1" >0</text>
<line x1="418.3" y1="275.53" x2="420.3" y2="275.53" stroke="#1c1c1c" stroke-width="1.05" />
<line x1="417.3" y1="265.96" x2="420.3" y2="265.96" stroke="#1c1c1c" stroke-width="1.05" />
<text x="415.8" y="268.01" font-size="6.5" text-anchor="end" fill="#2a2a2a" stroke="#2a2a2a" stroke-width="0.1" >20</text>
<line x1="418.3" y1="256.39" x2="420.3" y2="256.39" stroke="#1c1c1c" stroke-width="1.05" />
<line x1="417.3" y1="246.82" x2="420.3" y2="246.82" stroke="#1c1c1c" stroke-width="1.05" />
<text x="415.8" y="248.87" font-size="6.5" text-anchor="end" fill="#2a2a2a" stroke="#2a2a2a" stroke-width="0.1" >40</text>
<line x1="418.3" y1="237.25" x2="420.3" y2="237.25" stroke="#1c1c1c" stroke-width="1.05" />
<line x1="417.3" y1="227.68" x2="420.3" y2="227.68" stroke="#1c1c1c" stroke-width="1.05" />
<text x="415.8" y="229.73" font-size="6.5" text-anchor="end" fill="#2a2a2a" stroke="#2a2a2a" stroke-width="0.1" >60</text>
<line x1="418.3" y1="218.11" x2="420.3" y2="218.11" stroke="#1c1c1c" stroke-width="1.05" />
<line x1="417.3" y1="208.54" x2="420.3" y2="208.54" stroke="#1c1c1c" stroke-width="1.05" />
<text x="415.8" y="210.59" font-size="6.5" text-anchor="end" fill="#2a2a2a" stroke="#2a2a2a" stroke-width="0.1" >80</text>
<line x1="418.3" y1="198.97" x2="420.3" y2="198.97" stroke="#1c1c1c" stroke-width="1.05" />
<line x1="417.3" y1="189.4" x2="420.3" y2="189.4" stroke="#1c1c1c" stroke-width="1.05" />
<text x="415.8" y="191.45" font-size="6.5" text-anchor="end" fill="#2a2a2a" stroke="#2a2a2a" stroke-width="0.1" >100</text>
<line x1="420.7" y1="286.3" x2="420.7" y2="289" stroke="#1c1c1c" stroke-width="1.05" />
<line x1="444.75" y1="286.3" x2="444.75" y2="289" stroke="#1c1c1c" stroke-width="1.05" />
<line x1="468.81" y1="286.3" x2="468.81" y2="289" stroke="#1c1c1c" stroke-width="1.05" />
<line x1="492.86" y1="286.3" x2="492.86" y2="289" stroke="#1c1c1c" stroke-width="1.05" />
<line x1="508.5" y1="286.3" x2="508.5" y2="289" stroke="#1c1c1c" stroke-width="1.05" />
<text x="420.7" y="297.8" font-size="6.5" text-anchor="middle" fill="#2a2a2a" stroke="#2a2a2a" stroke-width="0.1" >0</text>
<text x="444.75" y="297.8" font-size="6.5" text-anchor="middle" fill="#2a2a2a" stroke="#2a2a2a" stroke-width="0.1" >100</text>
<text x="468.81" y="297.8" font-size="6.5" text-anchor="middle" fill="#2a2a2a" stroke="#2a2a2a" stroke-width="0.1" >200</text>
<text x="492.86" y="297.8" font-size="6.5" text-anchor="middle" fill="#2a2a2a" stroke="#2a2a2a" stroke-width="0.1" >300</text>
<text x="508.5" y="297.8" font-size="6.5" text-anchor="middle" fill="#2a2a2a" stroke="#2a2a2a" stroke-width="0.1" >365</text>
<text x="464.5" y="309.5" font-size="8.4" text-anchor="middle" fill="#222" textLength="12.8" lengthAdjust="spacingAndGlyphs" stroke="#222" stroke-width="0.3">Days</text>
<text x="0" y="0" font-size="8.4" text-anchor="middle" fill="#222" stroke="#222" stroke-width="0.25" textLength="50" lengthAdjust="spacingAndGlyphs" transform="translate(400.3 234.5) rotate(-90)">Adjusted survival, %</text>
<line x1="458.8" y1="271.6" x2="467.8" y2="271.6" stroke="#243f68" stroke-width="1.2"/>
<text x="471" y="273.3" font-size="5.3" text-anchor="start" fill="#2a2a2a" textLength="34.7" lengthAdjust="spacingAndGlyphs" stroke="#2a2a2a" stroke-width="0.1" >Cryopreserved</text>
<line x1="458.8" y1="280.6" x2="467.8" y2="280.6" stroke="#549552" stroke-width="1.2" stroke-dasharray="1.9 1.75"/>
<text x="471" y="282.3" font-size="5.3" text-anchor="start" fill="#2a2a2a" textLength="12.7" lengthAdjust="spacingAndGlyphs" stroke="#2a2a2a" stroke-width="0.1" >Fresh</text>
<text x="127.8" y="335.6" font-size="10" text-anchor="start" fill="#000" font-weight="bold" >I</text>
<text x="199.7" y="335.6" font-size="7.7" text-anchor="middle" fill="#222" textLength="65.3" lengthAdjust="spacingAndGlyphs" stroke="#222" stroke-width="0.15" >Neutrophil Recovery</text>
<polyline points="155.1,427.9 158.3,427.9 158.3,427.04 164.7,427.04 164.7,426.78 171.1,426.78 171.1,426.52 177.5,426.52 177.5,426.17 180.7,426.17 180.7,425.91 183.9,425.91 183.9,425.14 187.1,425.14 187.1,422.72 190.3,422.72 190.3,417.53 193.5,417.53 193.5,409.76 196.7,409.76 196.7,401.98 199.9,401.98 199.9,393.34 203.1,393.34 203.1,382.97 206.3,382.97 206.3,374.33 209.5,374.33 209.5,368.28 212.7,368.28 212.7,363.1 215.9,363.1 215.9,358.78 219.1,358.78 219.1,355.32 222.3,355.32 222.3,351.87 225.5,351.87 225.5,350.14 228.7,350.14 228.7,348.41 232.86,348.41 232.86,347.55 238.3,347.55 238.3,346.25 244.7,346.25 244.7,345.82" fill="none" stroke="#549552" stroke-width="1.25" stroke-dasharray="2.6 2.1" stroke-linejoin="round"/>
<polyline points="155.1,427.9 158.3,427.9 158.3,427.04 164.7,427.04 164.7,426.78 171.1,426.78 171.1,426.52 177.5,426.52 177.5,426.17 180.7,426.17 180.7,425.91 183.9,425.91 183.9,425.31 187.1,425.31 187.1,423.41 190.3,423.41 190.3,419.43 193.5,419.43 193.5,413.38 196.7,413.38 196.7,408.03 199.9,408.03 199.9,399.13 203.1,399.13 203.1,390.06 206.3,390.06 206.3,381.42 209.5,381.42 209.5,373.21 212.7,373.21 212.7,368.37 215.9,368.37 215.9,362.84 219.1,362.84 219.1,359.3 222.3,359.3 222.3,355.41 225.5,355.41 225.5,352.39 228.7,352.39 228.7,349.79 232.86,349.79 232.86,347.98 238.3,347.98 238.3,346.51 244.7,346.51 244.7,345.82" fill="none" stroke="#243f68" stroke-width="1.25" stroke-linejoin="round"/>
<line x1="153.9" y1="340.4" x2="245.5" y2="340.4" stroke="#1c1c1c" stroke-width="1.05" />
<line x1="245" y1="340.4" x2="245" y2="429.1" stroke="#1c1c1c" stroke-width="1.05" />
<line x1="154.4" y1="339.9" x2="154.4" y2="429.6" stroke="#1c1c1c" stroke-width="1.05" />
<line x1="153.9" y1="429.1" x2="245.5" y2="429.1" stroke="#1c1c1c" stroke-width="1.05" />
<line x1="151.4" y1="427.9" x2="154.4" y2="427.9" stroke="#1c1c1c" stroke-width="1.05" />
<text x="149.9" y="429.95" font-size="6.5" text-anchor="end" fill="#2a2a2a" stroke="#2a2a2a" stroke-width="0.1" >0</text>
<line x1="152.4" y1="419.26" x2="154.4" y2="419.26" stroke="#1c1c1c" stroke-width="1.05" />
<line x1="151.4" y1="410.62" x2="154.4" y2="410.62" stroke="#1c1c1c" stroke-width="1.05" />
<text x="149.9" y="412.67" font-size="6.5" text-anchor="end" fill="#2a2a2a" stroke="#2a2a2a" stroke-width="0.1" >20</text>
<line x1="152.4" y1="401.98" x2="154.4" y2="401.98" stroke="#1c1c1c" stroke-width="1.05" />
<line x1="151.4" y1="393.34" x2="154.4" y2="393.34" stroke="#1c1c1c" stroke-width="1.05" />
<text x="149.9" y="395.39" font-size="6.5" text-anchor="end" fill="#2a2a2a" stroke="#2a2a2a" stroke-width="0.1" >40</text>
<line x1="152.4" y1="384.7" x2="154.4" y2="384.7" stroke="#1c1c1c" stroke-width="1.05" />
<line x1="151.4" y1="376.06" x2="154.4" y2="376.06" stroke="#1c1c1c" stroke-width="1.05" />
<text x="149.9" y="378.11" font-size="6.5" text-anchor="end" fill="#2a2a2a" stroke="#2a2a2a" stroke-width="0.1" >60</text>
<line x1="152.4" y1="367.42" x2="154.4" y2="367.42" stroke="#1c1c1c" stroke-width="1.05" />
<line x1="151.4" y1="358.78" x2="154.4" y2="358.78" stroke="#1c1c1c" stroke-width="1.05" />
<text x="149.9" y="360.83" font-size="6.5" text-anchor="end" fill="#2a2a2a" stroke="#2a2a2a" stroke-width="0.1" >80</text>
<line x1="152.4" y1="350.14" x2="154.4" y2="350.14" stroke="#1c1c1c" stroke-width="1.05" />
<line x1="151.4" y1="341.5" x2="154.4" y2="341.5" stroke="#1c1c1c" stroke-width="1.05" />
<text x="149.9" y="343.55" font-size="6.5" text-anchor="end" fill="#2a2a2a" stroke="#2a2a2a" stroke-width="0.1" >100</text>
<line x1="155.1" y1="429.1" x2="155.1" y2="431.8" stroke="#1c1c1c" stroke-width="1.05" />
<line x1="177.5" y1="429.1" x2="177.5" y2="431.8" stroke="#1c1c1c" stroke-width="1.05" />
<line x1="199.9" y1="429.1" x2="199.9" y2="431.8" stroke="#1c1c1c" stroke-width="1.05" />
<line x1="222.3" y1="429.1" x2="222.3" y2="431.8" stroke="#1c1c1c" stroke-width="1.05" />
<line x1="244.7" y1="429.1" x2="244.7" y2="431.8" stroke="#1c1c1c" stroke-width="1.05" />
<text x="155.1" y="440.6" font-size="6.5" text-anchor="middle" fill="#2a2a2a" stroke="#2a2a2a" stroke-width="0.1" >0</text>
<text x="199.9" y="440.6" font-size="6.5" text-anchor="middle" fill="#2a2a2a" stroke="#2a2a2a" stroke-width="0.1" >14</text>
<text x="244.7" y="440.6" font-size="6.5" text-anchor="middle" fill="#2a2a2a" stroke="#2a2a2a" stroke-width="0.1" >28</text>
<text x="200.2" y="452.4" font-size="8.4" text-anchor="middle" fill="#222" textLength="12.8" lengthAdjust="spacingAndGlyphs" stroke="#222" stroke-width="0.3">Days</text>
<text x="0" y="0" font-size="8.4" text-anchor="middle" fill="#222" stroke="#222" stroke-width="0.25" textLength="65" lengthAdjust="spacingAndGlyphs" transform="translate(135.3 386) rotate(-90)">Cumulative incidence, %</text>
<line x1="157.7" y1="346.1" x2="166.2" y2="346.1" stroke="#243f68" stroke-width="1.2"/>
<text x="169" y="347.8" font-size="5.3" text-anchor="start" fill="#2a2a2a" textLength="34.7" lengthAdjust="spacingAndGlyphs" stroke="#2a2a2a" stroke-width="0.1" >Cryopreserved</text>
<line x1="157.7" y1="355.7" x2="166.2" y2="355.7" stroke="#549552" stroke-width="1.2" stroke-dasharray="1.9 1.75"/>
<text x="169" y="357.4" font-size="5.3" text-anchor="start" fill="#2a2a2a" textLength="12.7" lengthAdjust="spacingAndGlyphs" stroke="#2a2a2a" stroke-width="0.1" >Fresh</text>
<text x="256.5" y="335.6" font-size="10" text-anchor="start" fill="#000" font-weight="bold" >J</text>
<text x="328.5" y="335.6" font-size="7.7" text-anchor="middle" fill="#222" textLength="56.6" lengthAdjust="spacingAndGlyphs" stroke="#222" stroke-width="0.15" >Platelet Recovery</text>
<polyline points="284.2,422.98 294.32,422.98 295.85,421.43 297.19,415.82 298.98,402.01 300.15,394.67 303.02,381.04 306.96,369.3 311.8,361.45 317.62,355.58 322.37,351.7 329.45,348.42 340.56,347.21 351.58,346.69 362.69,346.52 373.8,346.09" fill="none" stroke="#549552" stroke-width="1.25" stroke-dasharray="2.6 2.1" stroke-linejoin="round"/>
<polyline points="284.2,422.98 294.32,422.98 295.85,421.86 297.19,417.11 299.16,404.6 301.13,394.67 304,384.92 307.94,375.26 311.8,367.32 315.65,361.45 319.5,356.62 323.98,353.94 329.45,350.58 340.56,349.54 351.58,348.68 362.69,348.42 373.8,347.99" fill="none" stroke="#243f68" stroke-width="1.25" stroke-linejoin="round"/>
<line x1="283" y1="340.6" x2="374.3" y2="340.6" stroke="#1c1c1c" stroke-width="1.05" />
<line x1="373.8" y1="340.6" x2="373.8" y2="429.1" stroke="#1c1c1c" stroke-width="1.05" />
<line x1="283.5" y1="340.1" x2="283.5" y2="429.6" stroke="#1c1c1c" stroke-width="1.05" />
<line x1="283" y1="429.1" x2="374.3" y2="429.1" stroke="#1c1c1c" stroke-width="1.05" />
<line x1="280.5" y1="427.9" x2="283.5" y2="427.9" stroke="#1c1c1c" stroke-width="1.05" />
<text x="279" y="429.95" font-size="6.5" text-anchor="end" fill="#2a2a2a" stroke="#2a2a2a" stroke-width="0.1" >0</text>
<line x1="281.5" y1="419.27" x2="283.5" y2="419.27" stroke="#1c1c1c" stroke-width="1.05" />
<line x1="280.5" y1="410.64" x2="283.5" y2="410.64" stroke="#1c1c1c" stroke-width="1.05" />
<text x="279" y="412.69" font-size="6.5" text-anchor="end" fill="#2a2a2a" stroke="#2a2a2a" stroke-width="0.1" >20</text>
<line x1="281.5" y1="402.01" x2="283.5" y2="402.01" stroke="#1c1c1c" stroke-width="1.05" />
<line x1="280.5" y1="393.38" x2="283.5" y2="393.38" stroke="#1c1c1c" stroke-width="1.05" />
<text x="279" y="395.43" font-size="6.5" text-anchor="end" fill="#2a2a2a" stroke="#2a2a2a" stroke-width="0.1" >40</text>
<line x1="281.5" y1="384.75" x2="283.5" y2="384.75" stroke="#1c1c1c" stroke-width="1.05" />
<line x1="280.5" y1="376.12" x2="283.5" y2="376.12" stroke="#1c1c1c" stroke-width="1.05" />
<text x="279" y="378.17" font-size="6.5" text-anchor="end" fill="#2a2a2a" stroke="#2a2a2a" stroke-width="0.1" >60</text>
<line x1="281.5" y1="367.49" x2="283.5" y2="367.49" stroke="#1c1c1c" stroke-width="1.05" />
<line x1="280.5" y1="358.86" x2="283.5" y2="358.86" stroke="#1c1c1c" stroke-width="1.05" />
<text x="279" y="360.91" font-size="6.5" text-anchor="end" fill="#2a2a2a" stroke="#2a2a2a" stroke-width="0.1" >80</text>
<line x1="281.5" y1="350.23" x2="283.5" y2="350.23" stroke="#1c1c1c" stroke-width="1.05" />
<line x1="280.5" y1="341.6" x2="283.5" y2="341.6" stroke="#1c1c1c" stroke-width="1.05" />
<text x="279" y="343.65" font-size="6.5" text-anchor="end" fill="#2a2a2a" stroke="#2a2a2a" stroke-width="0.1" >100</text>
<line x1="284.2" y1="429.1" x2="284.2" y2="431.8" stroke="#1c1c1c" stroke-width="1.05" />
<line x1="306.6" y1="429.1" x2="306.6" y2="431.8" stroke="#1c1c1c" stroke-width="1.05" />
<line x1="329" y1="429.1" x2="329" y2="431.8" stroke="#1c1c1c" stroke-width="1.05" />
<line x1="351.4" y1="429.1" x2="351.4" y2="431.8" stroke="#1c1c1c" stroke-width="1.05" />
<line x1="373.8" y1="429.1" x2="373.8" y2="431.8" stroke="#1c1c1c" stroke-width="1.05" />
<text x="284.2" y="440.6" font-size="6.5" text-anchor="middle" fill="#2a2a2a" stroke="#2a2a2a" stroke-width="0.1" >0</text>
<text x="329" y="440.6" font-size="6.5" text-anchor="middle" fill="#2a2a2a" stroke="#2a2a2a" stroke-width="0.1" >50</text>
<text x="373.8" y="440.6" font-size="6.5" text-anchor="middle" fill="#2a2a2a" stroke="#2a2a2a" stroke-width="0.1" >100</text>
<text x="329" y="452.2" font-size="8.4" text-anchor="middle" fill="#222" textLength="12.8" lengthAdjust="spacingAndGlyphs" stroke="#222" stroke-width="0.3">Days</text>
<text x="0" y="0" font-size="8.4" text-anchor="middle" fill="#222" stroke="#222" stroke-width="0.25" textLength="66" lengthAdjust="spacingAndGlyphs" transform="translate(263.6 386.5) rotate(-90)">Cumulative incidence, %</text>
<line x1="324.9" y1="414.5" x2="333.3" y2="414.5" stroke="#243f68" stroke-width="1.2"/>
<text x="336" y="416.2" font-size="5.3" text-anchor="start" fill="#2a2a2a" textLength="34.7" lengthAdjust="spacingAndGlyphs" stroke="#2a2a2a" stroke-width="0.1" >Cryopreserved</text>
<line x1="324.9" y1="423.5" x2="333.3" y2="423.5" stroke="#549552" stroke-width="1.2" stroke-dasharray="1.9 1.75"/>
<text x="336" y="425.2" font-size="5.3" text-anchor="start" fill="#2a2a2a" textLength="12.7" lengthAdjust="spacingAndGlyphs" stroke="#2a2a2a" stroke-width="0.1" >Fresh</text>
</svg>
<div class="frame"></div>
</body></html>
